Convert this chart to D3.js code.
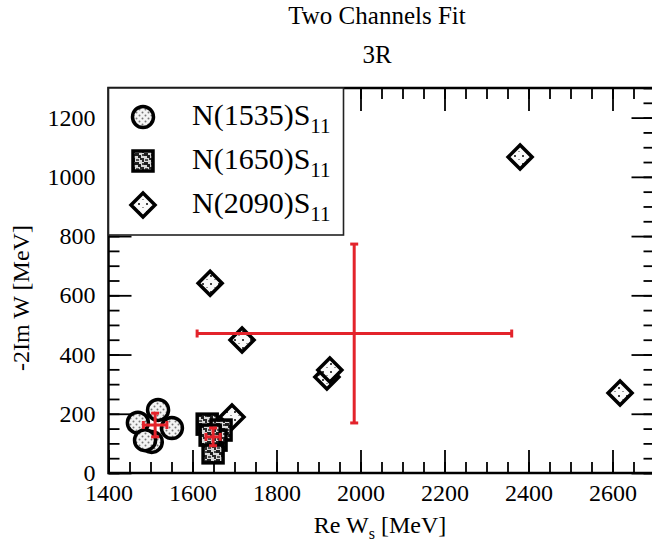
<!DOCTYPE html>
<html>
<head>
<meta charset="UTF-8">
<title>Two Channels Fit</title>
<script src="https://cdnjs.cloudflare.com/ajax/libs/d3/7.8.5/d3.min.js"></script>
<style>
body { margin: 0; background: #ffffff; }
svg, svg text { font-family: "Liberation Serif", "Times New Roman", serif; fill: #000; }
</style>
</head>
<body>
<script>
// pole positions: [Re W, -2Im W] in MeV
var n1535 = [[1470, 170], [1518, 213], [1551, 152], [1503, 105], [1487, 111]];
var n1650 = [[1635, 165], [1668, 145], [1656, 111], [1649, 68], [1642, 128]];
var n2090 = [[2380, 1067], [1642, 641], [1718, 449], [1920, 324], [1927, 348], [2618, 270], [1694, 189]];

// averages with error bars
var avgRe   = [1511, 1649, 1985];
var avgReLo = [1483, 1632, 1611];
var avgReHi = [1539, 1666, 2360];
var avgIm   = [162, 122, 471];
var avgImLo = [122, 92, 169];
var avgImHi = [202, 152, 773];

var xTicks = [1400, 1600, 1800, 2000, 2200, 2400, 2600];
var yTicks = [0, 200, 400, 600, 800, 1000, 1200];
var legendNames = ["N(1535)S", "N(1650)S", "N(2090)S"];

var width = 652, height = 548;
var svg = d3.select("body").append("svg")
    .attr("width", width)
    .attr("height", height);

var x = d3.scaleLinear().domain([1400, 2700]).range([108.5, 654.5]);
var y = d3.scaleLinear().domain([0, 1300]).range([473, 88]);

// fill patterns
var defs = svg.append("defs");
var pDot = defs.append("pattern").attr("id", "dots")
    .attr("width", 6).attr("height", 6).attr("patternUnits", "userSpaceOnUse");
pDot.append("rect").attr("width", 6).attr("height", 6).attr("fill", "#f4f4f4");
pDot.append("circle").attr("cx", 1.5).attr("cy", 1.5).attr("r", 1).attr("fill", "#777");
pDot.append("circle").attr("cx", 4.5).attr("cy", 4.5).attr("r", 1).attr("fill", "#777");

var pSq = defs.append("pattern").attr("id", "mottle")
    .attr("width", 9).attr("height", 9).attr("patternUnits", "userSpaceOnUse");
pSq.append("rect").attr("width", 9).attr("height", 9).attr("fill", "#d8d8d8");
pSq.append("path").attr("d", "M0,0h4v2h2v3h-3v-2h-3z").attr("fill", "#1e1e1e");
pSq.append("path").attr("d", "M5,5h4v4h-2v-2h-2z").attr("fill", "#2a2a2a");
pSq.append("rect").attr("x", 1).attr("y", 6).attr("width", 3).attr("height", 2).attr("fill", "#555");
pSq.append("rect").attr("x", 7).attr("y", 1).attr("width", 2).attr("height", 2).attr("fill", "#444");

var pDia = defs.append("pattern").attr("id", "specks")
    .attr("width", 8).attr("height", 8).attr("patternUnits", "userSpaceOnUse");
pDia.append("rect").attr("width", 8).attr("height", 8).attr("fill", "#fafafa");
pDia.append("rect").attr("x", 2).attr("y", 3).attr("width", 2).attr("height", 2).attr("fill", "#444");
pDia.append("rect").attr("x", 6).attr("y", 7).attr("width", 2).attr("height", 2).attr("fill", "#999");

// titles
svg.append("text").attr("x", 377).attr("y", 24)
    .attr("text-anchor", "middle").attr("font-size", 25).text("Two Channels Fit");
svg.append("text").attr("x", 377).attr("y", 63)
    .attr("text-anchor", "middle").attr("font-size", 25).text("3R");

// axes, ticks pointing inward
function minorTicks(lo, hi) {
    return d3.range(lo, hi + 1, 50);
}
var axes = svg.append("g").attr("class", "axes");

axes.append("g").attr("transform", "translate(0," + y(0) + ")")
    .call(d3.axisBottom(x).tickValues(minorTicks(1400, 2700)).tickSize(-11).tickFormat(""));
axes.append("g").attr("transform", "translate(0," + y(0) + ")")
    .call(d3.axisBottom(x).tickValues(xTicks).tickSize(-23).tickPadding(11).tickFormat(d3.format("d")));
axes.append("g").attr("transform", "translate(0," + y(1300) + ")")
    .call(d3.axisTop(x).tickValues(minorTicks(1400, 2700)).tickSize(-11).tickFormat(""));
axes.append("g").attr("transform", "translate(0," + y(1300) + ")")
    .call(d3.axisTop(x).tickValues(xTicks).tickSize(-23).tickFormat(""));

axes.append("g").attr("transform", "translate(" + x(1400) + ",0)")
    .call(d3.axisLeft(y).tickValues(minorTicks(0, 1300)).tickSize(-11).tickFormat(""));
axes.append("g").attr("transform", "translate(" + x(1400) + ",0)")
    .call(d3.axisLeft(y).tickValues(yTicks).tickSize(-23).tickPadding(13).tickFormat(d3.format("d")));
axes.append("g").attr("transform", "translate(" + x(2700) + ",0)")
    .call(d3.axisRight(y).tickValues(minorTicks(0, 1300)).tickSize(-11).tickFormat(""));
axes.append("g").attr("transform", "translate(" + x(2700) + ",0)")
    .call(d3.axisRight(y).tickValues(yTicks).tickSize(-23).tickFormat(""));

axes.selectAll("g")
    .attr("font-family", null).attr("font-size", null);
axes.selectAll(".domain").remove();
axes.selectAll(".tick line").attr("stroke", "#000").attr("stroke-width", 1.8);
axes.selectAll(".tick text")
    .style("font-family", "'Liberation Serif', 'Times New Roman', serif")
    .style("font-size", "24px").attr("fill", "#000");

// frame
svg.append("rect")
    .attr("x", x(1400)).attr("y", y(1300))
    .attr("width", x(2700) - x(1400)).attr("height", y(0) - y(1300))
    .attr("fill", "none").attr("stroke", "#000").attr("stroke-width", 2.5);

// axis labels
var xl = svg.append("text").attr("x", 380).attr("y", 533)
    .attr("text-anchor", "middle").attr("font-size", 24);
xl.append("tspan").text("Re W");
xl.append("tspan").attr("font-size", 16).attr("dy", 6).text("s");
xl.append("tspan").attr("dy", -6).text(" [MeV]");

svg.append("text")
    .attr("transform", "translate(29,298) rotate(-90)")
    .attr("text-anchor", "middle").attr("font-size", 24).attr("fill", "#000")
    .text("-2Im W [MeV]");

// symbol drawers
function drawCircle(g, cx, cy) {
    g.append("circle").attr("cx", cx).attr("cy", cy).attr("r", 10.5)
        .attr("fill", "url(#dots)").attr("stroke", "#000").attr("stroke-width", 3.5);
}
function drawSquare(g, cx, cy) {
    g.append("rect").attr("x", cx - 10).attr("y", cy - 10).attr("width", 20).attr("height", 20)
        .attr("fill", "url(#mottle)").attr("stroke", "#000").attr("stroke-width", 3.5);
}
function drawDiamond(g, cx, cy) {
    var s = 12;
    g.append("path")
        .attr("d", "M" + cx + "," + (cy - s) + "L" + (cx + s) + "," + cy + "L" + cx + "," + (cy + s) + "L" + (cx - s) + "," + cy + "Z")
        .attr("fill", "url(#specks)").attr("stroke", "#000").attr("stroke-width", 3.5)
        .attr("stroke-linejoin", "miter");
}

// legend
var leg = svg.append("g");
leg.append("rect").attr("x", x(1400)).attr("y", y(1300))
    .attr("width", 235).attr("height", 147)
    .attr("fill", "#fff").attr("stroke", "#222").attr("stroke-width", 1.6);
var drawers = [drawCircle, drawSquare, drawDiamond];
legendNames.forEach(function (name, i) {
    var by = 125 + i * 44;
    drawers[i](leg, 143, by - 8);
    var t = leg.append("text").attr("x", 192).attr("y", by).attr("font-size", 30);
    t.append("tspan").text(name);
    t.append("tspan").attr("font-size", 21).attr("dy", 8).text("11");
});

// data symbols
var pts = svg.append("g");
n2090.forEach(function (d) { drawDiamond(pts, x(d[0]), y(d[1])); });
n1650.forEach(function (d) { drawSquare(pts, x(d[0]), y(d[1])); });
n1535.forEach(function (d) { drawCircle(pts, x(d[0]), y(d[1])); });

// averaged error bars
var red = "#e3232b", cap = 4;
var eb = svg.append("g").attr("stroke", red).attr("stroke-width", 3).attr("fill", "none");
avgRe.forEach(function (re, i) {
    var cx = x(re), cy = y(avgIm[i]);
    var x0 = x(avgReLo[i]), x1 = x(avgReHi[i]);
    var y0 = y(avgImLo[i]), y1 = y(avgImHi[i]);
    eb.append("line").attr("x1", x0).attr("x2", x1).attr("y1", cy).attr("y2", cy);
    eb.append("line").attr("x1", cx).attr("x2", cx).attr("y1", y0).attr("y2", y1);
    eb.append("line").attr("x1", x0).attr("x2", x0).attr("y1", cy - cap).attr("y2", cy + cap);
    eb.append("line").attr("x1", x1).attr("x2", x1).attr("y1", cy - cap).attr("y2", cy + cap);
    eb.append("line").attr("x1", cx - cap).attr("x2", cx + cap).attr("y1", y0).attr("y2", y0);
    eb.append("line").attr("x1", cx - cap).attr("x2", cx + cap).attr("y1", y1).attr("y2", y1);
});
</script>
</body>
</html>
